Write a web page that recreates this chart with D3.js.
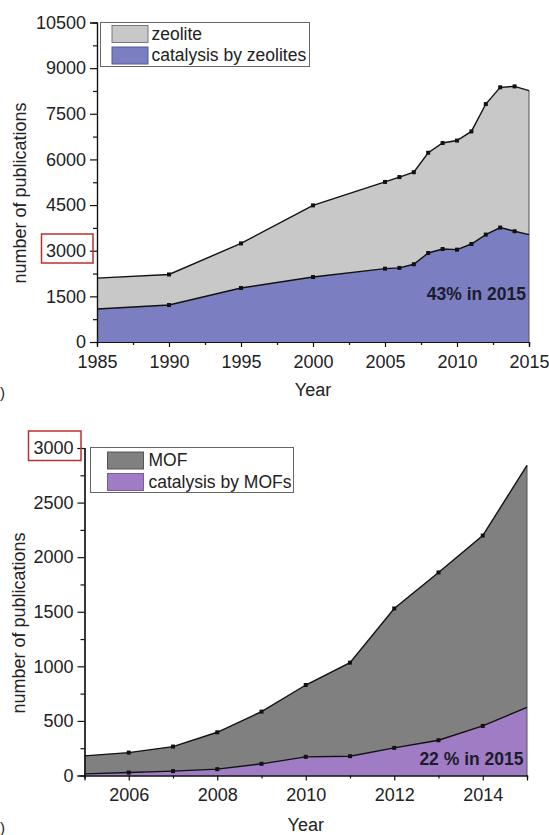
<!DOCTYPE html>
<html>
<head>
<meta charset="utf-8">
<script src="https://cdn.jsdelivr.net/npm/d3@7"></script>
<style>
  body { margin: 0; background: #fff; }
  svg { display: block; font-family: "Liberation Sans", Arial, sans-serif; }
</style>
</head>
<body>
<svg id="chart" width="549" height="835"></svg>
<script>
// publication counts
var zeoliteYears = [1985, 1990, 1995, 2000, 2005, 2006, 2007, 2008, 2009, 2010, 2011, 2012, 2013, 2014, 2015];
var zeoliteTotal = [2100, 2220, 3240, 4490, 5260, 5420, 5580, 6220, 6540, 6620, 6920, 7820, 8370, 8400, 8260];
var zeoliteCatalysis = [1085, 1215, 1775, 2135, 2410, 2435, 2555, 2925, 3055, 3035, 3220, 3530, 3760, 3640, 3530];

var mofYears = [2005, 2006, 2007, 2008, 2009, 2010, 2011, 2012, 2013, 2014, 2015];
var mofTotal = [180, 210, 265, 396, 585, 829, 1034, 1530, 1860, 2198, 2840];
var mofCatalysis = [15, 27, 40, 58, 107, 171, 177, 253, 323, 454, 625];

var zeoliteYTicks = [0, 1500, 3000, 4500, 6000, 7500, 9000, 10500];
var zeoliteXTicks = [1985, 1990, 1995, 2000, 2005, 2010, 2015];
var mofYTicks = [0, 500, 1000, 1500, 2000, 2500, 3000];
var mofXTicks = [2006, 2008, 2010, 2012, 2014];

var legendZeolite = ['zeolite', 'catalysis by zeolites'];
var legendMof = ['MOF', 'catalysis by MOFs'];

var svg = d3.select('#chart');

function drawPanel(p) {
    var x = d3.scaleLinear().domain(p.xDomain).range([p.left, p.right]);
    var y = d3.scaleLinear().domain(p.yDomain).range([p.bottom, p.top]);
    var g = svg.append('g');

    var area = d3.area()
        .x(function(d) { return x(d[0]); })
        .y0(y(0))
        .y1(function(d) { return y(d[1]); });
    var line = d3.line()
        .x(function(d) { return x(d[0]); })
        .y(function(d) { return y(d[1]); });

    var total = d3.zip(p.years, p.total);
    var part = d3.zip(p.years, p.part);

    g.append('path').attr('d', area(total)).attr('fill', p.colors[0]);
    g.append('path').attr('d', area(part)).attr('fill', p.colors[1]);

    // right edge of the filled area
    var last = p.years[p.years.length - 1];
    g.append('line')
        .attr('x1', x(last)).attr('x2', x(last))
        .attr('y1', y(0)).attr('y2', y(p.total[p.total.length - 1]))
        .attr('stroke', '#555').attr('stroke-width', 1);

    [total, part].forEach(function(series) {
        g.append('path').attr('d', line(series))
            .attr('fill', 'none').attr('stroke', '#111').attr('stroke-width', 1.4);
        g.selectAll(null).data(series.slice(1, -1)).enter().append('rect')
            .attr('x', function(d) { return x(d[0]) - 2; })
            .attr('y', function(d) { return y(d[1]) - 2; })
            .attr('width', 4).attr('height', 4)
            .attr('fill', '#111');
    });

    // axes
    g.append('g').attr('transform', 'translate(' + p.left + ',0)')
        .call(d3.axisLeft(y).tickValues(p.yTicks).tickSize(7).tickPadding(4).tickFormat(d3.format('d')));
    g.append('g').attr('transform', 'translate(' + p.left + ',0)')
        .call(d3.axisLeft(y).tickValues(p.yMinor).tickSize(4).tickFormat(''));
    g.append('g').attr('transform', 'translate(0,' + p.bottom + ')')
        .call(d3.axisBottom(x).tickValues(p.xTicks).tickSize(5).tickPadding(p.xPad).tickFormat(d3.format('d')));
    g.append('g').attr('transform', 'translate(0,' + p.bottom + ')')
        .call(d3.axisBottom(x).tickValues(p.xMinor).tickSize(3).tickFormat(''));

    g.selectAll('.domain').attr('stroke', '#111').attr('stroke-width', 1.2);
    g.selectAll('.tick line').attr('stroke', '#111').attr('stroke-width', 1.2);
    g.selectAll('.tick text').attr('font-size', 18).attr('fill', '#222')
        .attr('font-family', '"Liberation Sans", Arial, sans-serif');

    // axis titles
    g.append('text')
        .attr('transform', 'translate(' + p.yTitleX + ',' + p.yTitleY + ') rotate(-90)')
        .attr('text-anchor', 'middle').attr('dy', '0.35em')
        .attr('font-size', 18).attr('fill', '#222')
        .text('number of publications');
    g.append('text')
        .attr('x', (p.left + p.right) / 2).attr('y', p.xTitleY)
        .attr('text-anchor', 'middle').attr('font-size', 18).attr('fill', '#222')
        .text('Year');

    // share annotation
    g.append('text')
        .attr('x', p.noteX).attr('y', p.noteY)
        .attr('text-anchor', 'end').attr('font-size', 17.5).attr('font-weight', 'bold')
        .attr('fill', '#1c1c2c')
        .text(p.note);

    // red highlight box on the 3000 label
    g.append('rect')
        .attr('x', p.redBox[0]).attr('y', p.redBox[1])
        .attr('width', p.redBox[2]).attr('height', p.redBox[3])
        .attr('fill', 'none').attr('stroke', '#b8322e').attr('stroke-width', 1.5);

    // legend
    var lg = p.legend;
    g.append('rect')
        .attr('x', lg.x).attr('y', lg.y).attr('width', lg.w).attr('height', lg.h)
        .attr('fill', '#fff').attr('stroke', '#666').attr('stroke-width', 1);
    p.labels.forEach(function(label, i) {
        g.append('rect')
            .attr('x', lg.sx).attr('y', lg.sy[i]).attr('width', 36).attr('height', 17)
            .attr('fill', p.colors[i]).attr('stroke', p.swatchStroke[i]).attr('stroke-width', 1);
        g.append('text')
            .attr('x', lg.tx).attr('y', lg.ty[i])
            .attr('font-size', 17.5).attr('fill', '#222')
            .text(label);
    });

    // leftover panel letter
    g.append('text').attr('x', 0).attr('y', p.letterY)
        .attr('font-size', 15).attr('fill', '#222').text(')');
}

drawPanel({
    years: zeoliteYears, total: zeoliteTotal, part: zeoliteCatalysis,
    xDomain: [1985, 2015], yDomain: [0, 10500],
    left: 97, right: 529, top: 22.5, bottom: 342,
    yTicks: zeoliteYTicks,
    yMinor: d3.range(750, 10500, 1500),
    xTicks: zeoliteXTicks,
    xMinor: d3.range(1987.5, 2015, 5),
    xPad: 8,
    colors: ['#c8c8c8', '#7b7ec1'],
    swatchStroke: ['#777', '#55589a'],
    labels: legendZeolite,
    legend: { x: 100.5, y: 22.5, w: 209, h: 44, sx: 112, sy: [25.5, 47], tx: 151.5, ty: [39.5, 61] },
    yTitleX: 20, yTitleY: 193,
    xTitleY: 396,
    note: '43% in 2015', noteX: 526, noteY: 300,
    redBox: [41.5, 234, 51.5, 29],
    letterY: 398
});

drawPanel({
    years: mofYears, total: mofTotal, part: mofCatalysis,
    xDomain: [2005, 2015], yDomain: [0, 3000],
    left: 84.5, right: 527, top: 448, bottom: 775.5,
    yTicks: mofYTicks,
    yMinor: d3.range(250, 3000, 500),
    xTicks: mofXTicks,
    xMinor: [2005, 2007, 2009, 2011, 2013, 2015],
    xPad: 8,
    colors: ['#808080', '#a07cc5'],
    swatchStroke: ['#555', '#7a5a9e'],
    labels: legendMof,
    legend: { x: 90.5, y: 447.5, w: 203, h: 45, sx: 107.5, sy: [452, 473.5], tx: 148.5, ty: [466, 488] },
    yTitleX: 19, yTitleY: 623,
    xTitleY: 831,
    note: '22 % in 2015', noteX: 523.5, noteY: 764.5,
    redBox: [28.5, 431, 52.5, 29.5],
    letterY: 833
});
</script>
</body>
</html>
